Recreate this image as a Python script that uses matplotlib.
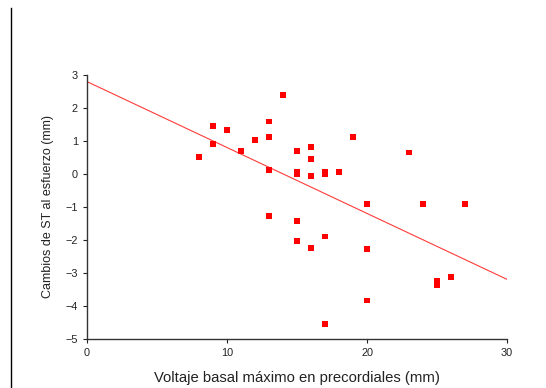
import matplotlib.pyplot as plt
from matplotlib.lines import Line2D

# Datos
voltaje = [8, 9, 9, 10, 11, 12, 13, 13, 13, 13, 14, 15, 15, 15, 15, 15, 16, 16, 16, 16,
           17, 17, 17, 17, 18, 19, 20, 20, 20, 23, 24, 25, 25, 26, 27]
cambio_st = [0.5, 1.46, 0.9, 1.32, 0.7, 1.02, 1.59, 1.11, 0.11, -1.29, 2.38, 0.7, 0.06, 0.0,
             -1.44, -2.04, 0.81, 0.45, -0.07, -2.24, 0.06, 0.0, -1.9, -4.56, 0.05, 1.11,
             -0.92, -2.29, -3.84, 0.65, -0.92, -3.24, -3.36, -3.13, -0.92]

# Recta de regresión (extremos)
fit_x = [0, 30]
fit_y = [2.8, -3.2]

xticks = [0, 10, 20, 30]
yticks = [-5, -4, -3, -2, -1, 0, 1, 2, 3]

plt.rcParams['font.family'] = ['Liberation Sans', 'DejaVu Sans']

fig = plt.figure(figsize=(5.46, 3.88), dpi=100)
ax = fig.add_axes([0.1593, 0.1271, 0.7693, 0.6796])

ax.plot(fit_x, fit_y, color="#ff3b3b", linewidth=0.8, zorder=2)
ax.scatter(voltaje, cambio_st, marker="s", s=18, color="#ff0000", edgecolors="none", zorder=3)

ax.set_xlim(0, 30)
ax.set_ylim(-5, 3)
ax.set_xticks(xticks)
ax.set_yticks(yticks)
ax.tick_params(direction="out", length=3, width=0.8, labelsize=7.8, colors="#222222")

for side in ["top", "right"]:
    ax.spines[side].set_visible(False)
for side in ["left", "bottom"]:
    ax.spines[side].set_linewidth(1.0)
    ax.spines[side].set_color("#333333")

ax.set_xlabel("Voltaje basal máximo en precordiales (mm)", fontsize=10.7, color="#222222", va="center")
ax.xaxis.set_label_coords(0.499, -0.149)
ax.set_ylabel("Cambios de ST al esfuerzo (mm)", fontsize=9, color="#222222", va="center")
ax.yaxis.set_label_coords(-0.093, 0.5)

# Línea vertical a la izquierda
fig.add_artist(Line2D([11 / 546, 11 / 546], [0, 1 - 8 / 388], color="black", linewidth=1.0))

fig.savefig("out.png", dpi=100)
